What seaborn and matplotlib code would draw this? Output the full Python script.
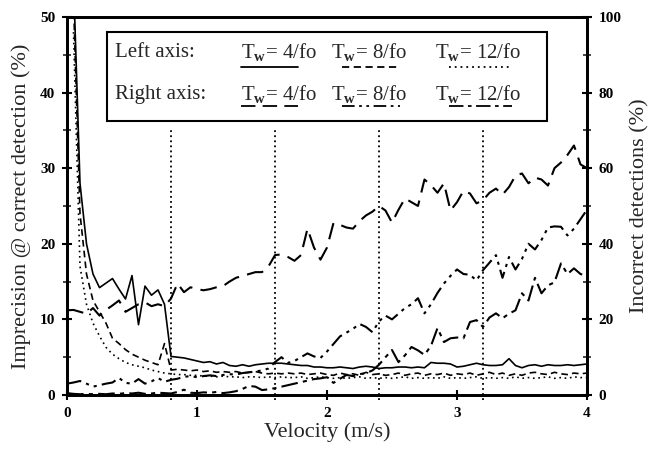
import numpy as np
import pandas as pd
import matplotlib
matplotlib.use("Agg")
import matplotlib.pyplot as plt
from matplotlib.patches import Rectangle
from matplotlib.ticker import MultipleLocator
import seaborn as sns

# velocity grid (m/s), one point every 0.05
velocity = [round(0.05 * i, 2) for i in range(81)]

# left axis: imprecision at correct detection (%)
left_tw4 = [np.nan, 55, 28, 20, 16, 14.2, 14.8, 15.4, 14.0, 12.7,
            15.8, 9.3, 14.4, 13.2, 13.9, 12.0, 5.1, 5.0, 4.9, 4.7,
            4.5, 4.3, 4.4, 4.1, 4.3, 3.9, 3.8, 4.0, 3.8, 4.0,
            4.1, 4.2, 4.2, 4.2, 4.1, 4.0, 3.9, 3.9, 3.7, 3.7,
            3.6, 3.6, 3.7, 3.6, 3.5, 3.7, 3.8, 3.7, 3.5, 3.6,
            3.6, 3.7, 3.7, 3.6, 3.7, 3.6, 4.3, 4.2, 4.2, 4.1,
            3.7, 3.8, 4.0, 4.2, 4.0, 3.9, 3.9, 4.0, 4.8, 3.9,
            3.6, 3.9, 4.0, 3.8, 4.0, 3.9, 3.9, 4.0, 3.9, 4.0,
            4.1]
left_tw8 = [np.nan, 52, 24, 16, 12.5, 11.0, 9.5, 7.5, 6.8, 6.0,
            5.4, 5.0, 4.6, 4.3, 4.0, 6.8, 3.3, 3.4, 3.3, 3.2,
            3.3, 3.1, 3.2, 3.0, 3.1, 3.0, 3.1, 2.9, 3.0, 3.1,
            2.9, 2.8, 2.9, 2.8, 2.9, 2.8, 2.9, 2.7, 2.8, 2.9,
            2.7, 2.6, 2.9, 2.7, 2.8, 2.6, 3.0, 2.7, 2.8, 2.6,
            2.7, 2.9, 2.6, 2.8, 2.9, 2.6, 2.8, 2.7, 2.9, 2.6,
            2.8, 2.7, 2.9, 2.6, 2.8, 3.0, 2.7, 2.9, 2.6, 2.8,
            2.6, 2.9, 3.0, 2.8, 2.7, 3.0, 2.8, 2.7, 2.9, 2.8,
            2.9]
left_tw12 = [np.nan, 48, 17, 12, 9.5, 7.8, 6.3, 5.4, 4.8, 4.3,
             4.0, 3.8, 3.6, 3.3, 3.1, 2.9, 2.8, 2.7, 2.7, 2.6,
             2.6, 2.5, 2.5, 2.4, 2.5, 2.4, 2.4, 2.3, 2.4, 2.4,
             2.3, 2.4, 2.3, 2.4, 2.3, 2.3, 2.4, 2.2, 2.3, 2.4,
             2.3, 2.2, 2.3, 2.2, 2.3, 2.4, 2.2, 2.3, 2.2, 2.3,
             2.2, 2.3, 2.4, 2.2, 2.3, 2.2, 2.3, 2.2, 2.4, 2.2,
             2.3, 2.2, 2.3, 2.4, 2.2, 2.3, 2.2, 2.3, 2.2, 2.4,
             2.2, 2.3, 2.2, 2.3, 2.4, 2.2, 2.3, 2.2, 2.4, 2.3,
             2.3]

# right axis: incorrect detections (%)
right_tw4 = [22.4, 22.5, 22.0, 21.5, 23.0, 21.0, 22.5, 23.7, 25.0, 22.0,
             23.0, 24.0, 24.5, 23.5, 24.0, 23.5, 25.5, 29.5, 27.2, 28.5,
             28.0, 27.7, 28.0, 28.5, 28.8, 30.0, 31.0, 31.5, 32.0, 32.5,
             32.5, 34.0, 37.0, 37.2, 36.5, 35.5, 37.0, 44.0, 39.0, 35.8,
             39.0, 45.5, 45.0, 44.3, 44.0, 46.0, 47.5, 48.5, 50.0, 48.8,
             45.6, 49.0, 52.0, 51.0, 50.0, 57.0, 55.5, 53.5, 56.0, 48.8,
             51.0, 54.0, 53.3, 50.7, 51.5, 53.5, 54.6, 53.0, 55.0, 58.0,
             58.6, 56.0, 57.5, 57.0, 55.4, 60.0, 61.5, 63.5, 66.0, 61.0,
             60.0]
right_tw8 = [3.0, 3.3, 3.7, 3.0, 2.2, 2.6, 3.0, 3.3, 4.5, 3.2,
             3.0, 4.2, 3.0, 3.6, 4.5, 3.5, 4.0, 4.3, 4.8, 5.0,
             4.7, 5.0, 5.2, 5.0, 5.3, 5.5, 5.4, 5.8, 6.0, 6.2,
             6.5, 7.0, 8.7, 10.0, 8.5, 9.0, 10.0, 11.0, 10.2, 9.8,
             11.5, 13.5, 15.5, 16.5, 17.5, 18.8, 18.0, 16.6, 19.5, 21.0,
             20.0, 21.5, 23.0, 24.0, 25.6, 21.6, 24.0, 27.0, 29.5, 31.5,
             33.2, 32.0, 31.8, 30.3, 33.0, 35.0, 37.0, 31.0, 36.5, 33.2,
             36.0, 40.0, 38.5, 41.0, 44.3, 44.6, 44.5, 42.2, 44.0, 46.5,
             49.0]
right_tw12 = [0.5, 0.3, 0.2, 0.3, 0.2, 0.3, 0.2, 0.4, 0.3, 0.5,
              0.4, 0.6, 0.3, 0.4, 0.6, 0.5, 0.4, 0.8, 1.4, 0.6,
              0.5, 0.7, 0.6, 0.8, 0.5, 0.7, 1.0, 1.6, 2.4, 2.2,
              1.3, 1.5, 1.8, 2.2, 2.6, 3.0, 3.4, 3.8, 4.2, 4.4,
              4.7, 3.2, 4.3, 5.3, 5.0, 5.5, 5.8, 6.5, 8.0, 10.0,
              11.9, 8.7, 10.5, 12.7, 11.8, 10.6, 13.0, 17.7, 14.0, 15.0,
              15.2, 15.0, 19.3, 19.8, 18.0, 20.5, 21.6, 20.3, 21.5, 22.4,
              26.9, 25.0, 31.0, 26.9, 29.0, 29.8, 34.8, 32.0, 33.5, 32.0,
              31.5]

# window boundaries drawn as dotted verticals
window_marks = [0.8, 1.6, 2.4, 3.2]
window_top = 35

df = pd.DataFrame({
    "velocity": velocity,
    "left_tw4": left_tw4, "left_tw8": left_tw8, "left_tw12": left_tw12,
    "right_tw4": right_tw4, "right_tw8": right_tw8, "right_tw12": right_tw12,
})

sns.set_style("ticks")
plt.rcParams["font.family"] = ["Liberation Serif", "DejaVu Serif"]
plt.rcParams["mathtext.fontset"] = "custom"
plt.rcParams["mathtext.rm"] = "Liberation Serif"
plt.rcParams["mathtext.bf"] = "Liberation Serif:bold"

styles = {
    "left_tw4": "-",
    "left_tw8": (0, (4, 2.5)),
    "left_tw12": (0, (1, 2.2)),
    "right_tw4": (0, (8, 4)),
    "right_tw8": (0, (7, 2.5, 1.5, 2.5, 1.5, 2.5)),
    "right_tw12": (0, (8, 2.5, 2, 2.5)),
}

fig = plt.figure(figsize=(6.53, 4.49), dpi=100)
ax = fig.add_axes([0.1026, 0.1203, 0.7963, 0.8419])
ax2 = ax.twinx()

for col in ["left_tw4", "left_tw8", "left_tw12"]:
    sns.lineplot(data=df, x="velocity", y=col, ax=ax, color="black",
                 linestyle=styles[col], lw=1.2)
for col in ["right_tw4", "right_tw8", "right_tw12"]:
    sns.lineplot(data=df, x="velocity", y=col, ax=ax2, color="black",
                 linestyle=styles[col], lw=1.5)

ax.vlines(window_marks, -0.6, window_top, colors="black",
          linestyles=(0, (1, 1.8)), lw=1.3, clip_on=False)

ax.set_xlim(0, 4)
ax.set_ylim(0, 50)
ax2.set_ylim(0, 100)
ax.xaxis.set_major_locator(MultipleLocator(1))
ax.yaxis.set_major_locator(MultipleLocator(10))
ax.yaxis.set_minor_locator(MultipleLocator(5))
ax2.yaxis.set_major_locator(MultipleLocator(20))
ax2.yaxis.set_minor_locator(MultipleLocator(10))

for a in (ax, ax2):
    for s in a.spines.values():
        s.set_linewidth(2)
        s.set_color("black")
    a.tick_params(which="major", direction="inout", length=7, width=1.5,
                  labelsize=11, colors="black")
    a.tick_params(which="minor", direction="inout", length=6, width=1.2)
    for lab in a.get_xticklabels() + a.get_yticklabels():
        lab.set_fontweight("bold")
ax.tick_params(axis="y", pad=5)
ax.tick_params(axis="x", pad=5)
ax2.tick_params(axis="y", pad=5)

ax.set_xlabel("Velocity (m/s)", fontsize=16, labelpad=2)
ax.set_ylabel("Imprecision @ correct detection (%)", fontsize=16, labelpad=6)
ax2.set_ylabel("Incorrect detections (%)", fontsize=16, labelpad=6)

# legend box drawn by hand: text on top, line sample underneath
ax2.add_patch(Rectangle((0.077, 0.725), 0.846, 0.235, transform=ax2.transAxes,
                        fill=True, facecolor="white", edgecolor="black",
                        lw=1.5, zorder=5))
rows = [("Left axis:", 0.905, 0.868, ["left_tw4", "left_tw8", "left_tw12"]),
        ("Right axis:", 0.795, 0.765, ["right_tw4", "right_tw8", "right_tw12"])]
col_x = [0.335, 0.508, 0.708]
sample_x = [(0.335, 0.445), (0.528, 0.640), (0.735, 0.855)]
names = ["4/fo", "8/fo", "12/fo"]
for title, ty, ly, cols in rows:
    ax2.text(0.092, ty, title, transform=ax2.transAxes, fontsize=15,
             va="center", ha="left", zorder=6)
    for cx, (sx0, sx1), nm, col in zip(col_x, sample_x, names, cols):
        ax2.text(cx, ty, r"T$_{\mathbf{w}}$= " + nm, transform=ax2.transAxes,
                 fontsize=15, va="center", ha="left", zorder=6)
        ax2.plot([sx0, sx1], [ly, ly], transform=ax2.transAxes, color="black",
                 linestyle=styles[col], lw=1.3, zorder=6)

fig.savefig("out.png", dpi=100)
